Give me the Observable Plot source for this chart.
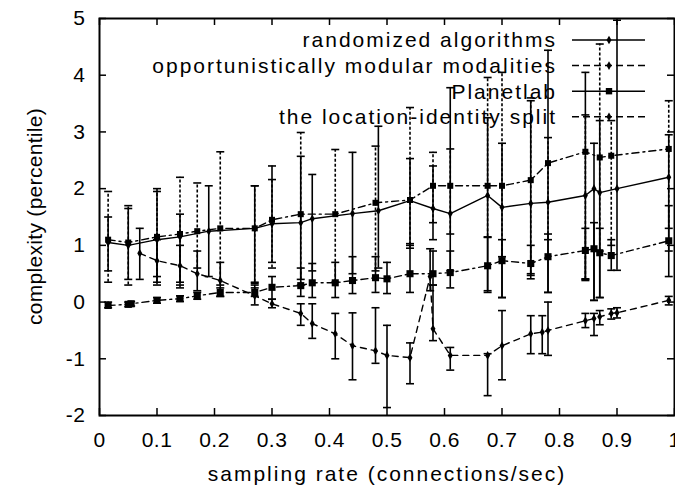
<!DOCTYPE html>
<html><head><meta charset="utf-8">
<script src="https://cdn.jsdelivr.net/npm/d3@7"></script>
<script src="https://cdn.jsdelivr.net/npm/@observablehq/plot@0.6"></script>
<style>
body{margin:0;background:#fff;}
svg text{letter-spacing:2px;}
g[aria-label="x-axis tick label"] text, g[aria-label="y-axis tick label"] text{letter-spacing:0.5px;}
svg text.ylab{letter-spacing:0.3px;}
</style></head><body><div id="chart"></div>
<script>
// ---- data ----
const seriesNames = ["randomized algorithms", "opportunistically modular modalities", "Planetlab", "the location-identity split"];

const xTicks = [0, 0.1, 0.2, 0.3, 0.4, 0.5, 0.6, 0.7, 0.8, 0.9, 1];
const xTickLabels = ["0", "0.1", "0.2", "0.3", "0.4", "0.5", "0.6", "0.7", "0.8", "0.9", "1"];
const yTicks = [-2, -1, 0, 1, 2, 3, 4, 5];
const yTickLabels = ["-2", "-1", "0", "1", "2", "3", "4", "5"];

// randomized algorithms
const randX  = [0.015,0.05,0.10,0.14,0.19,0.27,0.30,0.35,0.37,0.44,0.485,0.54,0.58,0.61,0.675,0.70,0.75,0.78,0.845,0.86,0.87,0.90,0.99];
const randY  = [1.05,1.00,1.10,1.15,1.25,1.30,1.38,1.40,1.47,1.56,1.61,1.79,1.65,1.56,1.88,1.67,1.74,1.76,1.88,2.00,1.93,2.00,2.20];
const randLo = [0.55,0.40,0.30,0.35,0.45,0.33,0.70,0.40,0.55,0.50,0.60,0.95,1.10,0.55,0.20,0.08,0.47,0.17,0.38,0.03,0.08,0.56,0.90];
const randHi = [1.50,1.65,1.95,1.55,2.05,2.05,2.40,2.57,2.25,2.64,3.10,2.53,2.40,3.78,3.25,2.80,3.55,4.44,4.05,2.80,3.20,4.97,2.95];

// opportunistically modular modalities
const oppX  = [0.015,0.05,0.055,0.10,0.14,0.17,0.21,0.27,0.30,0.35,0.37,0.41,0.44,0.48,0.50,0.54,0.58,0.61,0.675,0.70,0.75,0.78,0.845,0.86,0.87,0.89,0.99];
const oppY  = [-0.06,-0.04,-0.03,0.03,0.06,0.11,0.17,0.17,0.26,0.29,0.34,0.34,0.38,0.43,0.41,0.50,0.50,0.52,0.64,0.73,0.68,0.80,0.91,0.94,0.87,0.82,1.08];
const oppLo = [-0.10,-0.08,-0.07,-0.02,0.01,0.05,0.10,0.10,0.05,0.10,0.08,0.08,0.15,0.17,0.15,0.17,0.30,0.25,0.17,0.08,0.41,0.17,0.41,0.03,0.08,0.56,0.45];
const oppHi = [0.00,0.00,0.01,0.08,0.11,0.17,0.25,0.25,0.45,0.60,0.68,0.70,0.80,0.80,0.70,1.03,0.90,0.90,1.14,1.10,1.00,1.20,1.30,1.40,1.30,1.10,1.70];

// Planetlab
const planX  = [0.015,0.05,0.10,0.14,0.17,0.21,0.27,0.30,0.35,0.41,0.48,0.54,0.58,0.61,0.675,0.70,0.75,0.78,0.845,0.87,0.89,0.99];
const planY  = [1.10,1.05,1.15,1.20,1.25,1.30,1.30,1.45,1.55,1.55,1.75,1.80,2.05,2.05,2.05,2.05,2.15,2.45,2.65,2.55,2.58,2.70];
const planLo = [0.35,0.30,0.45,0.25,0.60,0.30,0.35,0.60,0.30,0.35,0.55,1.00,1.40,1.20,1.15,0.80,0.50,1.10,0.40,0.90,1.00,1.30];
const planHi = [1.95,1.70,2.00,2.20,2.10,2.65,2.05,2.16,2.99,2.69,2.75,3.43,2.64,2.70,3.96,4.05,3.60,2.90,3.30,4.55,3.20,3.55];

// the location-identity split
const locX  = [0.07,0.10,0.14,0.17,0.21,0.27,0.30,0.35,0.37,0.41,0.44,0.48,0.50,0.54,0.575,0.58,0.61,0.675,0.70,0.75,0.77,0.78,0.845,0.86,0.87,0.89,0.90,0.99];
const locY  = [0.86,0.73,0.64,0.50,0.38,0.11,-0.03,-0.20,-0.38,-0.56,-0.77,-0.86,-0.94,-0.98,0.45,-0.47,-0.94,-0.94,-0.77,-0.56,-0.53,-0.50,-0.33,-0.29,-0.26,-0.20,-0.19,0.03];
const locLo = [0.40,0.35,0.30,0.20,0.10,-0.05,-0.10,-0.41,-0.64,-1.00,-1.37,-1.08,-1.86,-1.44,0.20,-0.68,-1.20,-1.65,-1.37,-0.91,-0.91,-0.94,-0.45,-0.59,-0.40,-0.30,-0.28,-0.05];
const locHi = [1.30,1.10,1.00,0.90,0.70,0.30,0.05,-0.03,-0.03,-0.20,-0.19,-0.10,-0.41,-0.72,0.94,0.30,-0.80,-0.91,-0.15,-0.24,-0.24,0.00,-0.20,-0.20,-0.15,-0.12,-0.10,0.10];

const xLabel = "sampling rate (connections/sec)";
const yLabel = "complexity (percentile)";

// ---- build ----
function rows(xs, ys, lo, hi) { return xs.map((x, i) => ({x, y: ys[i], lo: lo[i], hi: hi[i]})); }
const rand = rows(randX, randY, randLo, randHi);
const opp = rows(oppX, oppY, oppLo, oppHi);
const plan = rows(planX, planY, planLo, planHi);
const loc = rows(locX, locY, locLo, locHi);

const capSymbol = {draw(ctx, size) { const r = Math.sqrt(size / Math.PI); ctx.moveTo(-r, 0); ctx.lineTo(r, 0); }};

const styles = [
  {data: rand, line: null, bar: null, symbol: "diamond", r: 2.6},
  {data: opp, line: "7,4,2,4", bar: null, symbol: "square", r: 4},
  {data: plan, line: "7,4,2,4", bar: "3,2", symbol: "square", r: 3.4},
  {data: loc, line: "6,5", bar: null, symbol: "diamond", r: 2.6}
];

const W = 675, H = 494, mL = 99, mR = 1, mT = 18, mB = 79;
const fw = W - mL - mR, fh = H - mT - mB;
const tick = 7;

const marks = [];
for (const s of styles) {
  marks.push(Plot.ruleX(s.data, {x: "x", y1: "lo", y2: "hi", stroke: "black", strokeWidth: 1.6, strokeDasharray: s.bar}));
  marks.push(Plot.dot(s.data, {x: "x", y: "lo", symbol: capSymbol, r: 4, stroke: "black", fill: "none", strokeWidth: 1.6}));
  marks.push(Plot.dot(s.data, {x: "x", y: "hi", symbol: capSymbol, r: 4, stroke: "black", fill: "none", strokeWidth: 1.6}));
}
for (const s of styles) {
  marks.push(Plot.line(s.data, {x: "x", y: "y", stroke: "black", strokeWidth: 1.4, strokeDasharray: s.line}));
  marks.push(Plot.dot(s.data, {x: "x", y: "y", symbol: s.symbol, r: s.r, fill: "black", stroke: "none"}));
}

const chart = Plot.plot({
  width: W, height: H,
  marginLeft: mL, marginRight: mR, marginTop: mT, marginBottom: mB,
  x: {domain: [0, 1]},
  y: {domain: [-2, 5]},
  style: {fontFamily: "'Liberation Sans', Arial, sans-serif", fontSize: "21px", background: "white", color: "black", overflow: "visible"},
  marks: [
    ...marks,
    Plot.frame({stroke: "black", strokeWidth: 2}),
    Plot.tickX(xTicks, {x: d => d, insetTop: fh - tick, stroke: "black", strokeWidth: 1.5}),
    Plot.tickX(xTicks, {x: d => d, insetBottom: fh - tick, stroke: "black", strokeWidth: 1.5}),
    Plot.tickY(yTicks, {y: d => d, insetRight: fw - tick, stroke: "black", strokeWidth: 1.5}),
    Plot.tickY(yTicks, {y: d => d, insetLeft: fw - tick, stroke: "black", strokeWidth: 1.5}),
    Plot.axisX(xTicks, {tickSize: 0, tickPadding: 17, label: null, fontSize: 21, tickFormat: d => xTickLabels[xTicks.indexOf(d)]}),
    Plot.axisY(yTicks, {tickSize: 0, tickPadding: 14, label: null, fontSize: 21, tickFormat: d => yTickLabels[yTicks.indexOf(d)]}),
    Plot.text([xLabel], {frameAnchor: "bottom", dy: 65, fontSize: 21, fill: "black"})
  ]
});
document.getElementById("chart").appendChild(chart);

const svg = d3.select(chart);
// y axis title
svg.append("text").attr("class", "ylab")
  .attr("transform", `translate(35,${mT + fh / 2}) rotate(-90)`)
  .attr("text-anchor", "middle").attr("dy", "0.35em")
  .attr("font-size", 21).attr("fill", "black").text(yLabel);

// legend (inside the frame, upper right)
const lg = svg.append("g").attr("class", "legend");
const legendStyle = [
  {dash: null, sym: "diamond", r: 2.6},
  {dash: "7,4", sym: "diamond", r: 2.6},
  {dash: null, sym: "square", r: 3.6},
  {dash: "7,4", sym: "diamond", r: 2.6}
];
seriesNames.forEach((name, i) => {
  const yy = 40 + i * 25.6;
  lg.append("text").attr("x", 557).attr("y", yy).attr("dy", "0.35em").attr("text-anchor", "end")
    .attr("font-size", 21).attr("fill", "black").text(name);
  lg.append("line").attr("x1", 572).attr("x2", 645).attr("y1", yy).attr("y2", yy)
    .attr("stroke", "black").attr("stroke-width", 1.5).attr("stroke-dasharray", legendStyle[i].dash);
  const st = legendStyle[i];
  const symType = st.sym === "square" ? d3.symbolSquare : d3.symbolDiamond;
  lg.append("path").attr("d", d3.symbol(symType, st.r * st.r * Math.PI)())
    .attr("transform", `translate(609,${yy})`).attr("fill", "black");
});
</script></body></html>
